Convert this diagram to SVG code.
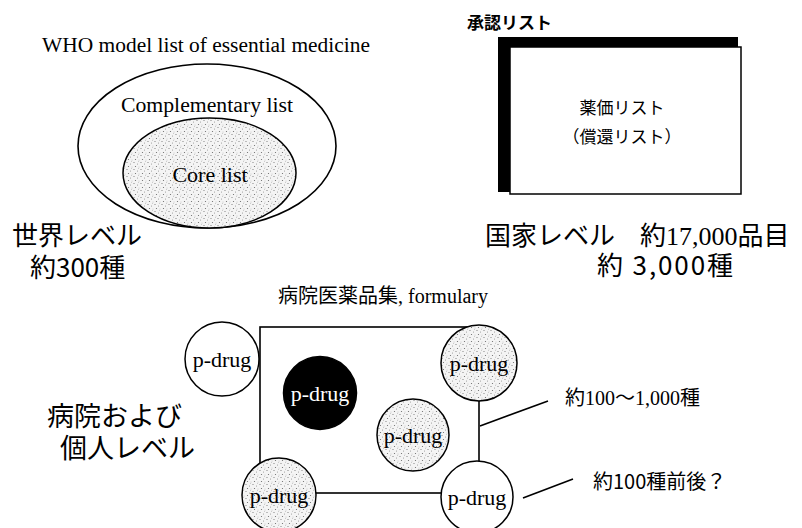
<svg xmlns="http://www.w3.org/2000/svg" width="802" height="528" viewBox="0 0 802 528">
<defs>
<pattern id="stipple" width="7" height="7" patternUnits="userSpaceOnUse">
<rect width="7" height="7" fill="#f4f4f4"/>
<circle cx="1" cy="1.5" r="0.6" fill="#777"/>
<circle cx="4.5" cy="3" r="0.5" fill="#888"/>
<circle cx="2.5" cy="5.5" r="0.6" fill="#666"/>
<circle cx="6" cy="6" r="0.4" fill="#999"/>
<circle cx="5.5" cy="0.5" r="0.4" fill="#999"/>
</pattern>
<style>
.serif{font-family:"Liberation Serif","Noto Sans CJK JP",serif;fill:#000}
.jp{font-family:"Noto Sans CJK JP",sans-serif;fill:#000}
.mix{font-family:"Liberation Serif","Noto Sans CJK JP",serif;fill:#000}
.line{stroke:#000;stroke-width:1.6;fill:none}
.drug{stroke:#000;stroke-width:1.5}
.white{fill:#fff}
.dot{fill:url(#stipple)}
.black{fill:#000}
.dl{font-family:"Liberation Serif",serif;font-size:22px;text-anchor:middle;fill:#000}
</style>
</defs>
<rect width="802" height="528" fill="#fff"/>

<g id="who">
<text class="serif" x="42" y="52" font-size="20" textLength="328" lengthAdjust="spacingAndGlyphs">WHO model list of essential medicine</text>
<ellipse cx="207" cy="146" rx="129" ry="82" class="line"/>
<text class="serif" x="121" y="112" font-size="20" textLength="172" lengthAdjust="spacingAndGlyphs">Complementary list</text>
</g>
<g id="core">
<ellipse cx="209.5" cy="173" rx="86.5" ry="55" class="dot" stroke="#000" stroke-width="1.5"/>
<text class="serif" x="210" y="182" font-size="22" text-anchor="middle">Core list</text>
</g>
<g id="world-level">
<text class="jp" x="12" y="245" font-size="26">世界レベル</text>
<text class="jp" x="30" y="277" font-size="26">約300種</text>
</g>

<g id="approved">
<text class="jp" x="467" y="29" font-size="17" font-weight="bold">承認リスト</text>
<rect x="498" y="37" width="240" height="155" fill="#000"/>
</g>
<g id="price-list">
<rect x="510" y="47" width="231" height="147" fill="#fff" stroke="#000" stroke-width="1.5"/>
<text class="jp" x="622" y="114" font-size="17" text-anchor="middle">薬価リスト</text>
<text class="jp" x="622" y="143" font-size="17" text-anchor="middle">（償還リスト）</text>
</g>
<g id="national-level">
<text class="jp" x="485" y="245" font-size="26">国家レベル</text>
<text class="mix" x="640" y="245" font-size="26">約17,000品目</text>
<text class="jp" x="597" y="275" font-size="26" textLength="136">約 3,000種</text>
</g>

<g id="formulary">
<text class="mix" x="278" y="303" font-size="20">病院医薬品集, formulary</text>
<rect x="260" y="327" width="219" height="166" class="line"/>
</g>
<g id="hospital-level">
<text class="jp" x="47" y="426" font-size="27">病院および</text>
<text class="jp" x="60" y="458" font-size="27">個人レベル</text>
</g>

<g id="connectors">
<line x1="480" y1="426" x2="548" y2="401" class="line"/>
<line x1="523" y1="498" x2="573" y2="479" class="line"/>
</g>

<g id="drug-tl"><circle cx="222" cy="359" r="37" class="drug white"/><text class="dl" x="222" y="367">p-drug</text></g>
<g id="drug-black"><circle cx="320" cy="393" r="36.5" class="drug black"/><text class="dl" x="320" y="401" style="fill:#fff">p-drug</text></g>
<g id="drug-tr"><circle cx="479" cy="363" r="38" class="drug dot"/><text class="dl" x="479" y="371">p-drug</text></g>
<g id="drug-mid"><circle cx="413" cy="435" r="36" class="drug dot"/><text class="dl" x="413" y="443">p-drug</text></g>
<g id="drug-bl"><circle cx="279" cy="495" r="37" class="drug dot"/><text class="dl" x="279" y="503">p-drug</text></g>
<g id="drug-br"><circle cx="477" cy="497" r="36" class="drug white"/><text class="dl" x="477" y="505">p-drug</text></g>

<g id="labels">
<text class="mix" x="565" y="405" font-size="20">約100～1,000種</text>
<text class="jp" x="593" y="489" font-size="20">約100種前後？</text>
</g>
</svg>
